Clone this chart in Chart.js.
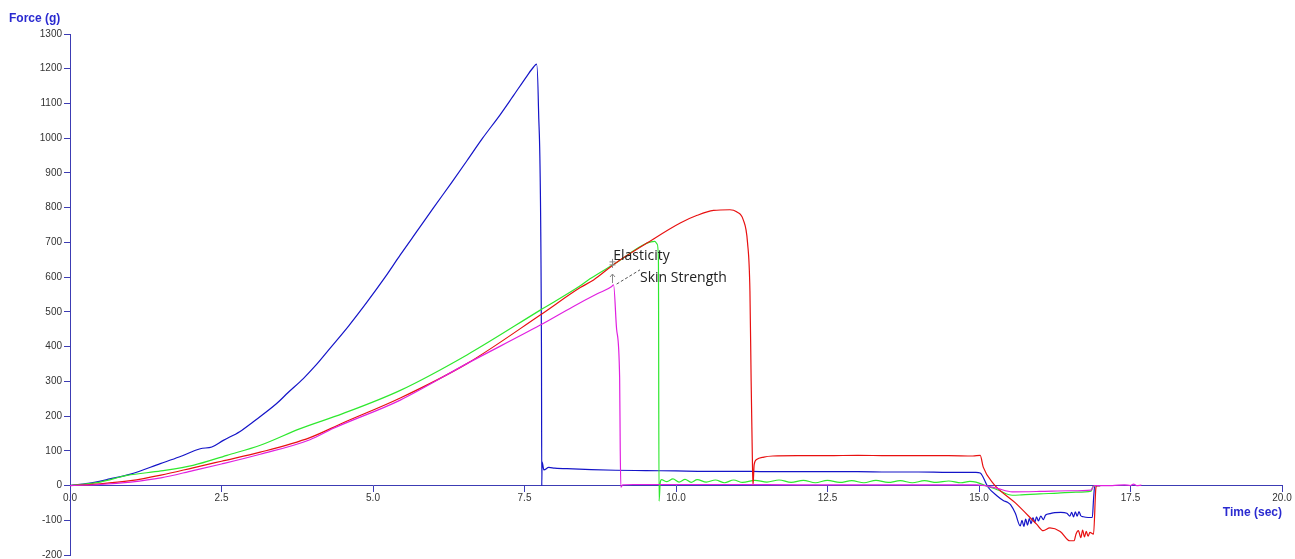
<!DOCTYPE html>
<html><head><meta charset="utf-8">
<script src="https://cdn.jsdelivr.net/npm/chart.js@4"></script>
<style>html,body{margin:0;padding:0;background:#fff}#wrap{position:relative;width:1295px;height:559px}</style>
</head><body><div id="wrap"><canvas id="c"></canvas></div>
<script>
// ---- data (time in sec, force in g) ----
const blueTime = [0, 0.3, 0.66, 1.0, 1.49, 1.8, 2.15, 2.34, 2.53, 2.8, 3.02, 3.41, 3.6, 3.85, 4.05, 4.29, 4.6, 4.9, 5.2, 5.45, 5.75, 6.0, 6.3, 6.55, 6.8, 7.1, 7.3, 7.54, 7.65, 7.70, 7.73, 7.78, 7.785, 7.79, 7.82, 7.9, 8.0, 8.3, 8.6, 9.0, 9.5, 10.0, 10.5, 11.0, 11.5, 12.0, 12.5, 13.0, 13.5, 14.0, 14.5, 14.95, 15.02, 15.15, 15.3, 15.4, 15.47, 15.52, 15.6, 15.68, 15.71, 15.74, 15.77, 15.8, 15.83, 15.86, 15.89, 15.92, 15.95, 15.98, 16.02, 16.06, 16.1, 16.17, 16.25, 16.35, 16.45, 16.5, 16.53, 16.56, 16.59, 16.62, 16.65, 16.68, 16.72, 16.8, 16.87, 16.89, 16.91, 17.0];
const blueForce = [0, 6, 19, 33, 63, 82, 106, 111, 130, 155, 183, 236, 268, 308, 345, 395, 460, 528, 600, 664, 738, 800, 873, 935, 998, 1068, 1118, 1179, 1205, 1213, 1093, 390, 0, 68, 45, 52, 50, 48, 46, 44, 43, 42, 41, 41, 40, 40, 40, 40, 39, 39, 38, 38, 36, -5, -30, -43, -48, -55, -80, -116, -100, -118, -97, -114, -95, -110, -92, -106, -90, -102, -88, -98, -85, -81, -78, -77, -80, -88, -77, -90, -76, -88, -75, -87, -90, -92, -92, -40, 0, 0];

const redTime = [0, 0.5, 1.0, 1.5, 2.03, 2.5, 3.14, 3.96, 4.5, 5.45, 6.55, 7.76, 8.42, 8.64, 9.0, 9.52, 10.07, 10.35, 10.62, 10.89, 11.0, 11.11, 11.18, 11.22, 11.24, 11.26, 11.27, 11.29, 11.33, 11.45, 11.6, 12.0, 12.5, 13.0, 13.5, 14.0, 14.5, 14.9, 15.02, 15.07, 15.24, 15.6, 15.95, 16.06, 16.17, 16.34, 16.5, 16.57, 16.6, 16.64, 16.68, 16.71, 16.74, 16.77, 16.8, 16.83, 16.89, 16.93, 16.95, 17.0];
const redForce = [0, 5, 14, 30, 51, 70, 96, 138, 180, 252, 351, 491, 570, 592, 640, 698, 756, 778, 792, 794, 788, 765, 700, 560, 300, 80, 0, 60, 75, 82, 85, 86, 86, 87, 86, 86, 86, 85, 87, 53, 5, -50, -111, -130, -122, -132, -159, -159, -140, -130, -150, -128, -148, -132, -146, -135, -140, -5, 0, 0];

const greenTime = [0, 0.5, 0.94, 1.5, 2.03, 2.59, 3.14, 3.8, 4.5, 5.45, 6.55, 7.76, 8.42, 8.58, 9.0, 9.52, 9.65, 9.69, 9.71, 9.72, 9.74, 9.76, 9.85, 9.95, 10.05, 10.15, 10.25, 10.35, 10.5, 10.65, 10.8, 10.95, 11.1, 11.3, 11.5, 11.7, 11.9, 12.1, 12.3, 12.5, 12.7, 12.9, 13.1, 13.3, 13.5, 13.7, 13.9, 14.1, 14.3, 14.5, 14.7, 14.85, 14.95, 15.1, 15.3, 15.55, 15.7, 16.0, 16.3, 16.6, 16.85, 16.88, 17.0];
const greenForce = [0, 10, 29, 42, 58, 87, 116, 164, 207, 274, 376, 505, 575, 595, 640, 698, 703, 695, 650, -45, 8, 17, 11, 19, 10, 18, 9, 17, 10, 16, 8, 16, 9, 15, 10, 16, 9, 15, 8, 15, 9, 14, 8, 15, 9, 14, 8, 14, 9, 13, 8, 12, 10, 0, -12, -28, -27, -24, -22, -19, -16, -3, 0];

const magentaTime = [0, 0.5, 1.0, 1.5, 2.03, 2.5, 3.14, 3.96, 4.34, 5.45, 6.55, 7.76, 8.3, 8.7, 8.94, 8.97, 9.02, 9.07, 9.08, 9.09, 9.12, 9.3, 10.0, 11.0, 12.0, 13.0, 14.0, 14.95, 15.1, 15.3, 15.55, 16.0, 16.5, 16.85, 16.9, 17.0, 17.2, 17.4, 17.5, 17.55, 17.6, 17.68];
const magentaForce = [0, 3, 10, 22, 43, 62, 90, 132, 164, 246, 351, 462, 515, 552, 573, 578, 450, 310, 100, -5, 2, 3, 3, 3, 2, 2, 2, 2, 0, -8, -18, -17, -15, -13, 0, 0, 0, 2, 0, 4, 0, 1];

const xTickStep = 2.5;
const yTickStep = 100;
const xLabel = 'Time (sec)';
const yLabel = 'Force (g)';
const annotationTexts = ['Elasticity', 'Skin Strength'];
const annotationTimes = [8.965, 9.406];
const annotationForces = [648, 587];

const axisColor = '#3c3cb4';
const tickFont = {family: '"Liberation Sans", Arial, sans-serif', size: 10};

function pts(ts, fs) { return ts.map((t, i) => ({x: t, y: fs[i]})); }

const overlay = {
  id: 'overlay',
  afterDraw(chart) {
    const {ctx, scales: {x, y}} = chart;
    ctx.save();
    ctx.fillStyle = '#2a2ad0';
    ctx.font = 'bold 12px "Liberation Sans", Arial, sans-serif';
    ctx.textBaseline = 'middle';
    ctx.textAlign = 'left';
    ctx.fillText(yLabel, 9, y.top - 15);
    ctx.textAlign = 'right';
    ctx.fillText(xLabel, x.right, y.getPixelForValue(0) + 27);

    // annotation texts
    ctx.fillStyle = '#222';
    ctx.font = '14px "Open Sans", sans-serif';
    ctx.textAlign = 'left';
    ctx.textBaseline = 'alphabetic';
    annotationTexts.forEach((s, i) => {
      ctx.fillText(s, x.getPixelForValue(annotationTimes[i]), y.getPixelForValue(annotationForces[i]));
    });

    // markers
    const mx = Math.round(x.getPixelForValue(8.94)) + 0.5;
    const my = y.getPixelForValue(641);
    ctx.strokeStyle = '#888';
    ctx.lineWidth = 1;
    ctx.beginPath();
    ctx.moveTo(mx, my - 4); ctx.lineTo(mx, my + 5);
    ctx.moveTo(mx - 3, my - 1); ctx.lineTo(mx + 3, my - 1);
    ctx.moveTo(mx - 3, my + 2); ctx.lineTo(mx + 3, my + 2);
    ctx.stroke();
    const ay = y.getPixelForValue(609);
    const by = y.getPixelForValue(583);
    ctx.beginPath();
    ctx.moveTo(mx, ay); ctx.lineTo(mx, by);
    ctx.moveTo(mx - 2.5, ay + 3); ctx.lineTo(mx, ay); ctx.lineTo(mx + 2.5, ay + 3);
    ctx.stroke();

    // dashed connector
    ctx.strokeStyle = '#555';
    ctx.setLineDash([3, 2]);
    ctx.beginPath();
    ctx.moveTo(x.getPixelForValue(9.02), y.getPixelForValue(580));
    ctx.lineTo(x.getPixelForValue(9.406), y.getPixelForValue(621));
    ctx.stroke();
    ctx.restore();
  }
};

new Chart(document.getElementById('c'), {
  type: 'line',
  data: {
    datasets: [
      {data: pts(magentaTime, magentaForce), borderColor: '#e020e0'},
      {data: pts(redTime, redForce), borderColor: '#e81010'},
      {data: pts(greenTime, greenForce), borderColor: '#2ee82e'},
      {data: pts(blueTime, blueForce), borderColor: '#1414c8'}
    ]
  },
  options: {
    responsive: true,
    maintainAspectRatio: false,
    animation: false,
    layout: {padding: {top: 34, right: 13, bottom: 4, left: 0}},
    plugins: {legend: {display: false}, tooltip: {enabled: false}},
    elements: {point: {radius: 0}, line: {borderWidth: 1.2, tension: 0, cubicInterpolationMode: 'monotone', fill: false}},
    scales: {
      x: {
        type: 'linear', min: 0, max: 20, position: {y: 0},
        ticks: {stepSize: xTickStep, callback: v => v.toFixed(1), color: '#333', font: tickFont, padding: 1, maxRotation: 0, autoSkip: false},
        grid: {drawOnChartArea: false, drawTicks: true, tickLength: 6, color: axisColor},
        border: {color: axisColor, width: 1},
        afterFit(s) { s.paddingLeft = 0; s.paddingRight = 0; s.paddingTop = 0; s.paddingBottom = 0; }
      },
      y: {
        type: 'linear', min: -200, max: 1300,
        ticks: {stepSize: yTickStep, callback: v => String(v), color: '#333', font: tickFont, padding: 2},
        grid: {drawOnChartArea: false, drawTicks: true, tickLength: 6, color: axisColor},
        border: {color: axisColor, width: 1},
        afterFit(s) { s.width = 70; s.paddingTop = 0; s.paddingBottom = 0; }
      }
    }
  },
  plugins: [overlay]
});
</script>
</body></html>
